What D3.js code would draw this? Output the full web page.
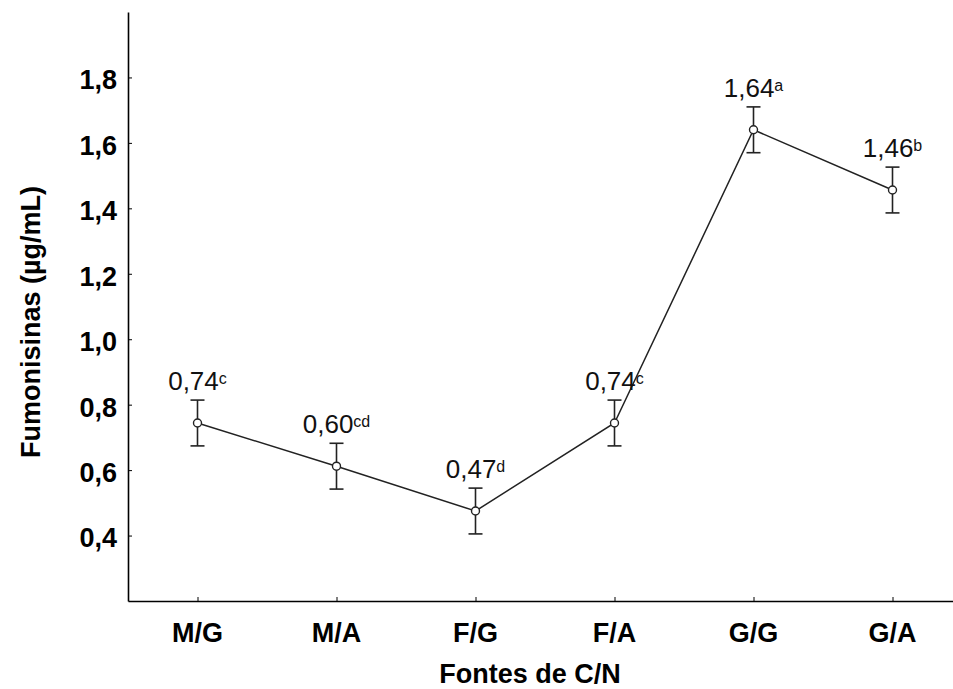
<!DOCTYPE html>
<html>
<head>
<meta charset="utf-8">
<script src="https://cdn.jsdelivr.net/npm/d3@7"></script>
<style>
  body { margin: 0; background: #fff; }
  svg { display: block; font-family: "Liberation Sans", Arial, sans-serif; }
</style>
</head>
<body>
<div id="chart"></div>
<script>
// data
const categories = ["M/G", "M/A", "F/G", "F/A", "G/G", "G/A"];
const means = [0.744, 0.612, 0.475, 0.744, 1.64, 1.456];
const errors = [0.07, 0.07, 0.07, 0.07, 0.07, 0.07];
const labels = ["0,74", "0,60", "0,47", "0,74", "1,64", "1,46"];
const letters = ["c", "cd", "d", "c", "a", "b"];
const yTicks = [0.4, 0.6, 0.8, 1.0, 1.2, 1.4, 1.6, 1.8];

const width = 953, height = 689;
const margin = { top: 12, right: -9, bottom: 88, left: 128 };

const svg = d3.select("#chart").append("svg")
    .attr("width", width)
    .attr("height", height);

const x = d3.scalePoint()
    .domain(categories)
    .range([margin.left, width - margin.right])
    .padding(0.5);

const y = d3.scaleLinear()
    .domain([0.2, 2.0])
    .range([height - margin.bottom, margin.top]);

const fmt = d => d3.format(".1f")(d).replace(".", ",");

// axes, ticks pointing inward
const xAxis = g => g
    .attr("transform", `translate(0, ${y(0.2)})`)
    .call(d3.axisBottom(x).tickSize(-4).tickPadding(0).tickSizeOuter(0))
    .call(g => g.selectAll(".tick text").remove())
    .call(g => g.select(".domain").attr("stroke-width", 1.6));

const yAxis = g => g
    .attr("transform", `translate(${margin.left}, 0)`)
    .call(d3.axisLeft(y).tickValues(yTicks).tickFormat(fmt).tickSize(-4).tickPadding(11).tickSizeOuter(0))
    .call(g => g.select(".domain").attr("stroke-width", 1.6))
    .call(g => g.selectAll(".tick text")
        .attr("font-size", 27)
        .attr("font-weight", "bold")
        .attr("font-family", "Liberation Sans, Arial, sans-serif")
        .attr("fill", "#000")
        .attr("dy", "0.42em"));

svg.append("g").call(xAxis);
svg.append("g").call(yAxis);

// category labels
svg.append("g")
  .selectAll("text")
  .data(categories)
  .join("text")
    .attr("x", d => x(d))
    .attr("y", y(0.2) + 41)
    .attr("text-anchor", "middle")
    .attr("font-size", 27)
    .attr("font-weight", "bold")
    .text(d => d);

// axis titles
svg.append("text")
    .attr("x", 530)
    .attr("y", 683)
    .attr("text-anchor", "middle")
    .attr("font-size", 27)
    .attr("font-weight", "bold")
    .text("Fontes de C/N");

svg.append("text")
    .attr("transform", `translate(40, 322) rotate(-90)`)
    .attr("text-anchor", "middle")
    .attr("font-size", 27)
    .attr("font-weight", "bold")
    .text("Fumonisinas (µg/mL)");

// line through means
const line = d3.line()
    .x((d, i) => x(categories[i]))
    .y(d => y(d));

svg.append("path")
    .datum(means)
    .attr("fill", "none")
    .attr("stroke", "#222")
    .attr("stroke-width", 1.5)
    .attr("d", line);

// error bars
const bars = svg.append("g")
    .attr("stroke", "#222")
    .attr("stroke-width", 1.6)
  .selectAll("g")
  .data(means)
  .join("g");

bars.append("line")
    .attr("x1", (d, i) => x(categories[i]))
    .attr("x2", (d, i) => x(categories[i]))
    .attr("y1", (d, i) => y(d + errors[i]))
    .attr("y2", (d, i) => y(d - errors[i]));

bars.append("line")
    .attr("x1", (d, i) => x(categories[i]) - 7)
    .attr("x2", (d, i) => x(categories[i]) + 7)
    .attr("y1", (d, i) => y(d + errors[i]))
    .attr("y2", (d, i) => y(d + errors[i]));

bars.append("line")
    .attr("x1", (d, i) => x(categories[i]) - 7)
    .attr("x2", (d, i) => x(categories[i]) + 7)
    .attr("y1", (d, i) => y(d - errors[i]))
    .attr("y2", (d, i) => y(d - errors[i]));

// markers
svg.append("g")
  .selectAll("circle")
  .data(means)
  .join("circle")
    .attr("cx", (d, i) => x(categories[i]))
    .attr("cy", d => y(d))
    .attr("r", 4)
    .attr("fill", "#fff")
    .attr("stroke", "#222")
    .attr("stroke-width", 1.4);

// value labels with letter superscripts
const vl = svg.append("g")
  .selectAll("text")
  .data(means)
  .join("text")
    .attr("x", (d, i) => x(categories[i]))
    .attr("y", (d, i) => y(d + errors[i]) - 10)
    .attr("text-anchor", "middle")
    .attr("font-size", 26)
    .attr("fill", "#111");

vl.append("tspan").text((d, i) => labels[i]);
vl.append("tspan")
    .attr("font-size", 16)
    .attr("dy", -6)
    .text((d, i) => letters[i]);
</script>
</body>
</html>
